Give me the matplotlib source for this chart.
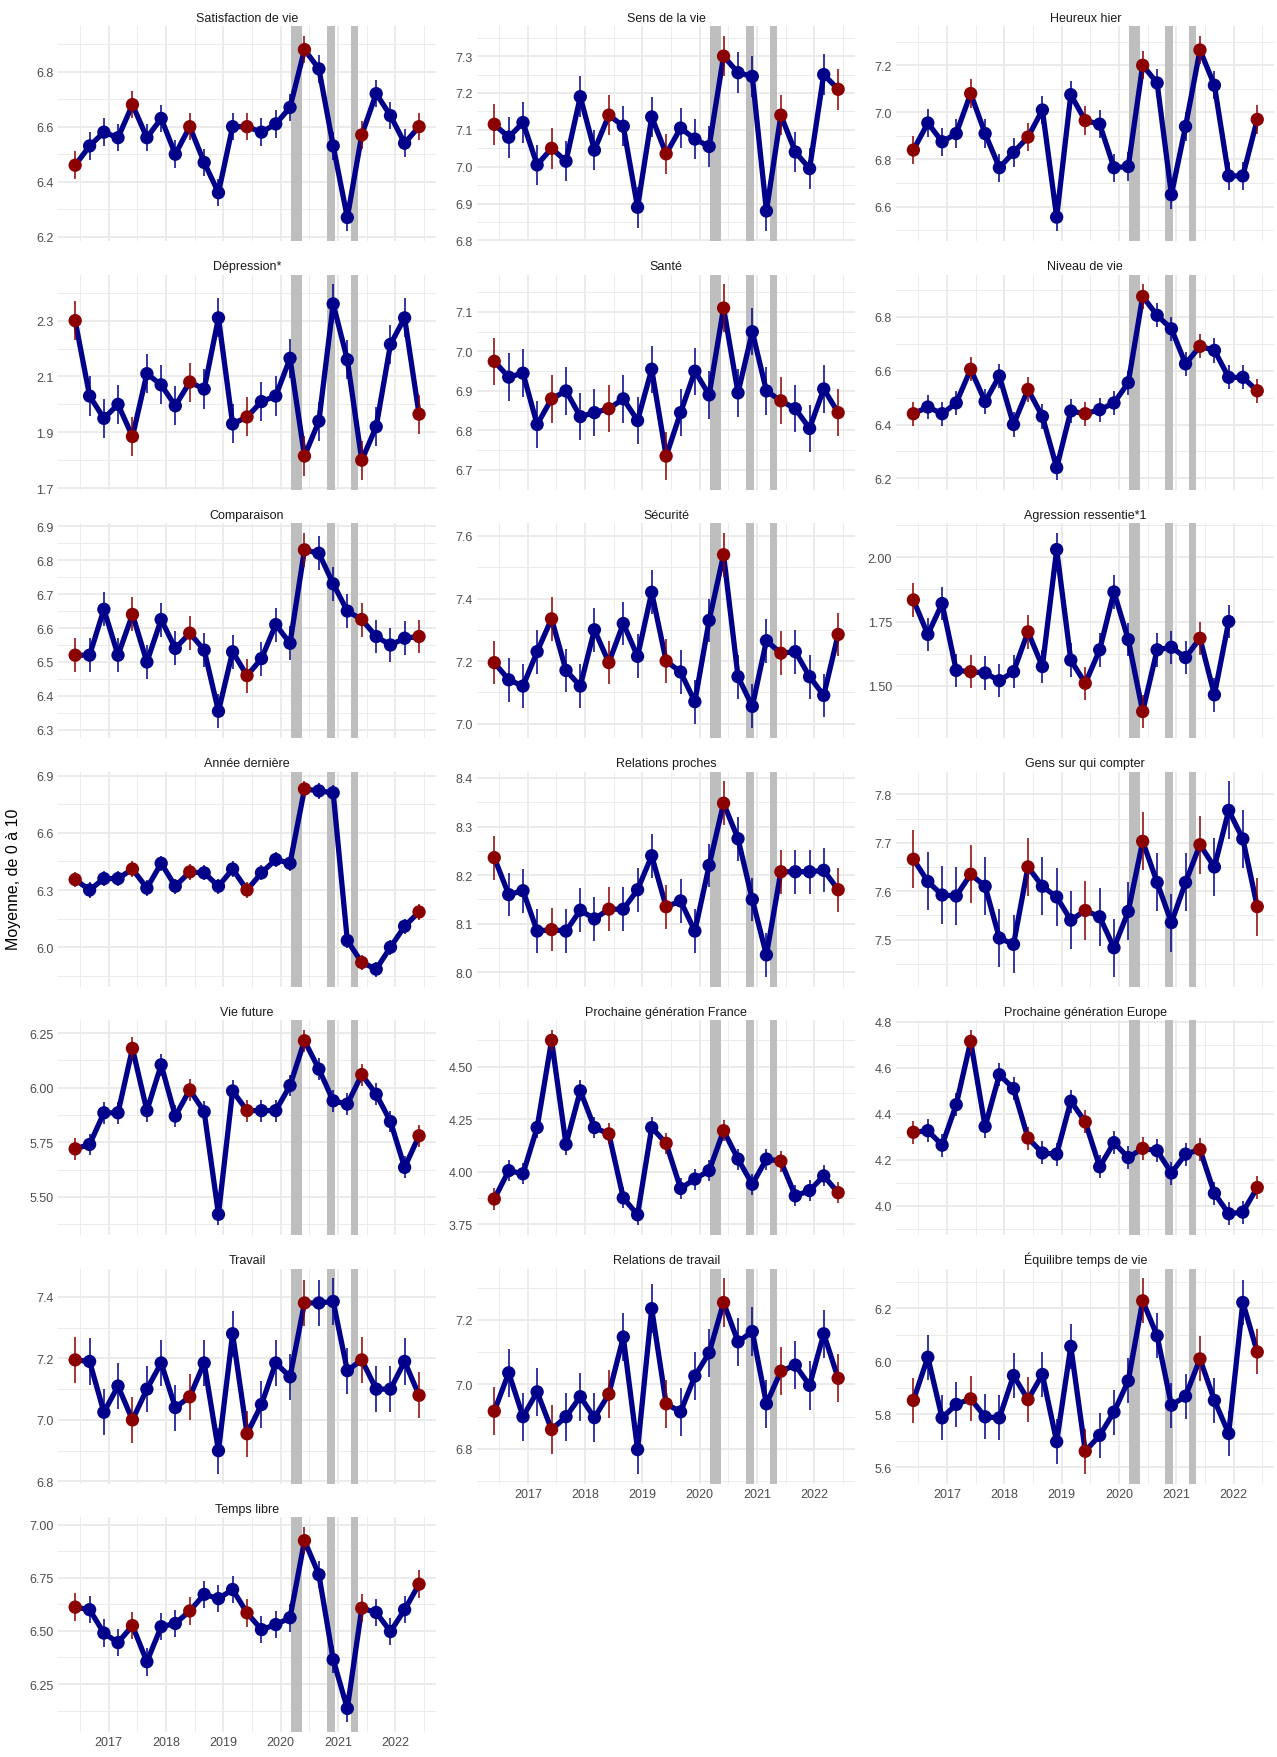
import matplotlib.pyplot as plt
import matplotlib.dates as mdates
import numpy as np
import pandas as pd

plt.rcParams['font.family'] = ['Liberation Sans', 'DejaVu Sans']

# Quarterly survey waves, June 2016 -> June 2022 (June waves in red)
dates = pd.date_range("2016-06-01", periods=25, freq="3MS")
red_every = 4

# Lockdown periods (grey bands)
lockdowns = [("2020-03-08", "2020-05-15"),
             ("2020-10-21", "2020-12-14"),
             ("2021-03-26", "2021-05-08")]

satisfaction = [6.46, 6.53, 6.58, 6.56, 6.68, 6.56, 6.63, 6.50, 6.60, 6.47, 6.36, 6.60, 6.60,
                6.58, 6.61, 6.67, 6.88, 6.81, 6.53, 6.27, 6.57, 6.72, 6.64, 6.54, 6.60]
sens = [7.115, 7.08, 7.12, 7.005, 7.05, 7.015, 7.19, 7.045, 7.14, 7.11, 6.89, 7.135, 7.035,
        7.105, 7.075, 7.055, 7.30, 7.255, 7.245, 6.88, 7.14, 7.04, 6.995, 7.25, 7.21]
heureux = [6.84, 6.955, 6.875, 6.91, 7.08, 6.91, 6.765, 6.83, 6.895, 7.01, 6.555, 7.075, 6.965,
           6.95, 6.765, 6.77, 7.20, 7.125, 6.65, 6.94, 7.265, 7.115, 6.73, 6.73, 6.97]
depression = [2.30, 2.03, 1.95, 2.00, 1.885, 2.11, 2.07, 1.995, 2.08, 2.055, 2.31, 1.93, 1.955,
              2.01, 2.03, 2.165, 1.815, 1.94, 2.36, 2.16, 1.80, 1.92, 2.215, 2.31, 1.965]
sante = [6.975, 6.935, 6.945, 6.815, 6.88, 6.90, 6.835, 6.845, 6.855, 6.88, 6.825, 6.955, 6.735,
         6.845, 6.95, 6.89, 7.11, 6.895, 7.05, 6.90, 6.875, 6.855, 6.805, 6.905, 6.845]
niveau = [6.44, 6.465, 6.44, 6.48, 6.605, 6.485, 6.58, 6.40, 6.53, 6.43, 6.24, 6.45, 6.44,
          6.455, 6.48, 6.555, 6.875, 6.805, 6.755, 6.625, 6.69, 6.675, 6.575, 6.575, 6.525]
comparaison = [6.52, 6.52, 6.655, 6.52, 6.64, 6.50, 6.625, 6.54, 6.585, 6.535, 6.355, 6.53, 6.46,
               6.51, 6.61, 6.555, 6.83, 6.82, 6.73, 6.65, 6.625, 6.575, 6.55, 6.57, 6.575]
securite = [7.195, 7.14, 7.12, 7.23, 7.335, 7.17, 7.12, 7.30, 7.195, 7.32, 7.215, 7.42, 7.20,
            7.165, 7.07, 7.33, 7.54, 7.15, 7.055, 7.265, 7.225, 7.23, 7.15, 7.09, 7.285]
agression = [1.834, 1.70, 1.82, 1.56, 1.555, 1.55, 1.52, 1.555, 1.71, 1.575, 2.03, 1.60, 1.51,
             1.64, 1.865, 1.68, 1.40, 1.64, 1.65, 1.61, 1.685, 1.465, 1.75]
annee = [6.355, 6.30, 6.36, 6.36, 6.41, 6.31, 6.44, 6.32, 6.395, 6.39, 6.32, 6.41, 6.30,
         6.39, 6.46, 6.44, 6.83, 6.82, 6.81, 6.035, 5.92, 5.885, 6.00, 6.11, 6.185]
relations = [8.236, 8.16, 8.168, 8.085, 8.088, 8.085, 8.128, 8.11, 8.13, 8.13, 8.17, 8.24, 8.135,
             8.147, 8.085, 8.22, 8.348, 8.275, 8.15, 8.036, 8.207, 8.207, 8.207, 8.21, 8.17]
gens = [7.666, 7.62, 7.592, 7.59, 7.635, 7.61, 7.503, 7.49, 7.65, 7.61, 7.588, 7.54, 7.56,
        7.547, 7.483, 7.558, 7.703, 7.618, 7.535, 7.618, 7.696, 7.65, 7.767, 7.708, 7.568]
vie_future = [5.72, 5.74, 5.885, 5.885, 6.18, 5.895, 6.105, 5.87, 5.99, 5.89, 5.42, 5.985, 5.895,
              5.895, 5.895, 6.01, 6.215, 6.085, 5.94, 5.925, 6.06, 5.97, 5.845, 5.635, 5.78]
gen_france = [3.87, 4.005, 3.99, 4.21, 4.625, 4.13, 4.385, 4.21, 4.18, 3.875, 3.795, 4.21, 4.135,
              3.92, 3.965, 4.005, 4.195, 4.06, 3.94, 4.06, 4.05, 3.885, 3.91, 3.98, 3.90]
gen_europe = [4.32, 4.327, 4.264, 4.44, 4.715, 4.345, 4.57, 4.51, 4.295, 4.23, 4.225, 4.455, 4.365,
              4.17, 4.275, 4.21, 4.25, 4.24, 4.143, 4.225, 4.245, 4.055, 3.966, 3.973, 4.08]
travail = [7.195, 7.19, 7.025, 7.11, 7.00, 7.10, 7.185, 7.04, 7.075, 7.185, 6.90, 7.28, 6.955,
           7.05, 7.185, 7.14, 7.38, 7.38, 7.385, 7.16, 7.195, 7.10, 7.10, 7.19, 7.08]
rel_travail = [6.917, 7.036, 6.90, 6.977, 6.86, 6.90, 6.962, 6.897, 6.97, 7.147, 6.798, 7.235, 6.94,
               6.915, 7.026, 7.098, 7.254, 7.132, 7.164, 6.94, 7.041, 7.06, 6.997, 7.157, 7.019]
equilibre = [5.852, 6.015, 5.786, 5.837, 5.858, 5.79, 5.786, 5.946, 5.855, 5.95, 5.696, 6.056, 5.66,
             5.72, 5.808, 5.926, 6.228, 6.096, 5.834, 5.868, 6.009, 5.852, 5.727, 6.222, 6.035]
temps_libre = [6.612, 6.60, 6.49, 6.445, 6.525, 6.355, 6.52, 6.535, 6.594, 6.672, 6.652, 6.695, 6.585,
               6.506, 6.53, 6.562, 6.925, 6.765, 6.365, 6.135, 6.607, 6.587, 6.497, 6.60, 6.72]

# (title, values, half-width of error bar, y tick labels)
panels = [
    ("Satisfaction de vie", satisfaction, 0.05, ["6.2", "6.4", "6.6", "6.8"]),
    ("Sens de la vie", sens, 0.055, ["6.8", "6.9", "7.0", "7.1", "7.2", "7.3"]),
    ("Heureux hier", heureux, 0.06, ["6.6", "6.8", "7.0", "7.2"]),
    ("Dépression*", depression, 0.07, ["1.7", "1.9", "2.1", "2.3"]),
    ("Santé", sante, 0.06, ["6.7", "6.8", "6.9", "7.0", "7.1"]),
    ("Niveau de vie", niveau, 0.045, ["6.2", "6.4", "6.6", "6.8"]),
    ("Comparaison", comparaison, 0.05, ["6.3", "6.4", "6.5", "6.6", "6.7", "6.8", "6.9"]),
    ("Sécurité", securite, 0.07, ["7.0", "7.2", "7.4", "7.6"]),
    ("Agression ressentie*1", agression, 0.065, ["1.50", "1.75", "2.00"]),
    ("Année dernière", annee, 0.04, ["6.0", "6.3", "6.6", "6.9"]),
    ("Relations proches", relations, 0.045, ["8.0", "8.1", "8.2", "8.3", "8.4"]),
    ("Gens sur qui compter", gens, 0.06, ["7.4", "7.5", "7.6", "7.7", "7.8"]),
    ("Vie future", vie_future, 0.05, ["5.50", "5.75", "6.00", "6.25"]),
    ("Prochaine génération France", gen_france, 0.05, ["3.75", "4.00", "4.25", "4.50"]),
    ("Prochaine génération Europe", gen_europe, 0.05, ["4.0", "4.2", "4.4", "4.6", "4.8"]),
    ("Travail", travail, 0.075, ["6.8", "7.0", "7.2", "7.4"]),
    ("Relations de travail", rel_travail, 0.075, ["6.8", "7.0", "7.2"]),
    ("Équilibre temps de vie", equilibre, 0.085, ["5.6", "5.8", "6.0", "6.2"]),
    ("Temps libre", temps_libre, 0.065, ["6.25", "6.50", "6.75", "7.00"]),
]

years = [2017, 2018, 2019, 2020, 2021, 2022]

NAVY = "#00008B"
DARKRED = "#8B0000"
GRID = "#EBEBEB"

fig, axes = plt.subplots(7, 3, figsize=(12.77, 17.58), dpi=100)
fig.subplots_adjust(left=0.0454, right=0.998, top=0.9846, bottom=0.0142,
                    wspace=0.108, hspace=0.156)

x_all = mdates.date2num(dates)
span = x_all[-1] - x_all[0]
xlim = (x_all[0] - 0.05 * span, x_all[-1] + 0.05 * span)
major_x = mdates.date2num(pd.to_datetime([f"{y}-01-01" for y in years]))
minor_x = mdates.date2num(pd.to_datetime([f"{y}-07-02" for y in range(2016, 2023)]))

flat = axes.flatten()
for ax in flat[len(panels):]:
    ax.remove()

bottom_axes = {18, 16, 17}

for i, (title, vals, err, ticks) in enumerate(panels):
    ax = flat[i]
    v = np.array(vals)
    x = x_all[:len(v)]
    cols = [DARKRED if k % red_every == 0 else NAVY for k in range(len(v))]

    lo, hi = (v - err).min(), (v + err).max()
    pad = 0.05 * (hi - lo)
    ylim = (lo - pad, hi + pad)

    for a, b in lockdowns:
        ax.axvspan(mdates.datestr2num(a), mdates.datestr2num(b),
                   color="#BEBEBE", lw=0, zorder=1)
    ax.plot(x, v, color=NAVY, lw=3.8, zorder=3, solid_capstyle="round")
    ax.vlines(x, v - err, v + err, colors=cols, lw=1.1, zorder=4)
    ax.scatter(x, v, s=92, c=cols, zorder=5, linewidths=0)

    tv = [float(t) for t in ticks]
    step = tv[1] - tv[0]
    minor_y = [t - step / 2 for t in tv] + [tv[-1] + step / 2]
    minor_y = [m for m in minor_y if ylim[0] <= m <= ylim[1]]
    ax.set_yticks(tv)
    ax.set_yticklabels(ticks)
    ax.set_yticks(minor_y, minor=True)
    ax.set_ylim(ylim)

    ax.set_xticks(major_x)
    ax.set_xticks(minor_x, minor=True)
    ax.set_xlim(xlim)
    if i in bottom_axes:
        ax.set_xticklabels([str(y) for y in years])
    else:
        ax.tick_params(axis="x", labelbottom=False)

    ax.grid(which="major", color=GRID, lw=1.4)
    ax.grid(which="minor", color=GRID, lw=0.7)
    ax.set_axisbelow(True)
    for s in ax.spines.values():
        s.set_visible(False)
    ax.tick_params(which="both", length=0, labelsize=9, colors="#4D4D4D", pad=3)
    ax.set_title(title, fontsize=9, color="#1A1A1A", pad=4)

fig.text(0.0105, 0.5, "Moyenne, de 0 à 10", rotation=90, ha="center", va="center",
         fontsize=11.5, color="black")

fig.savefig("out.png", dpi=100)
